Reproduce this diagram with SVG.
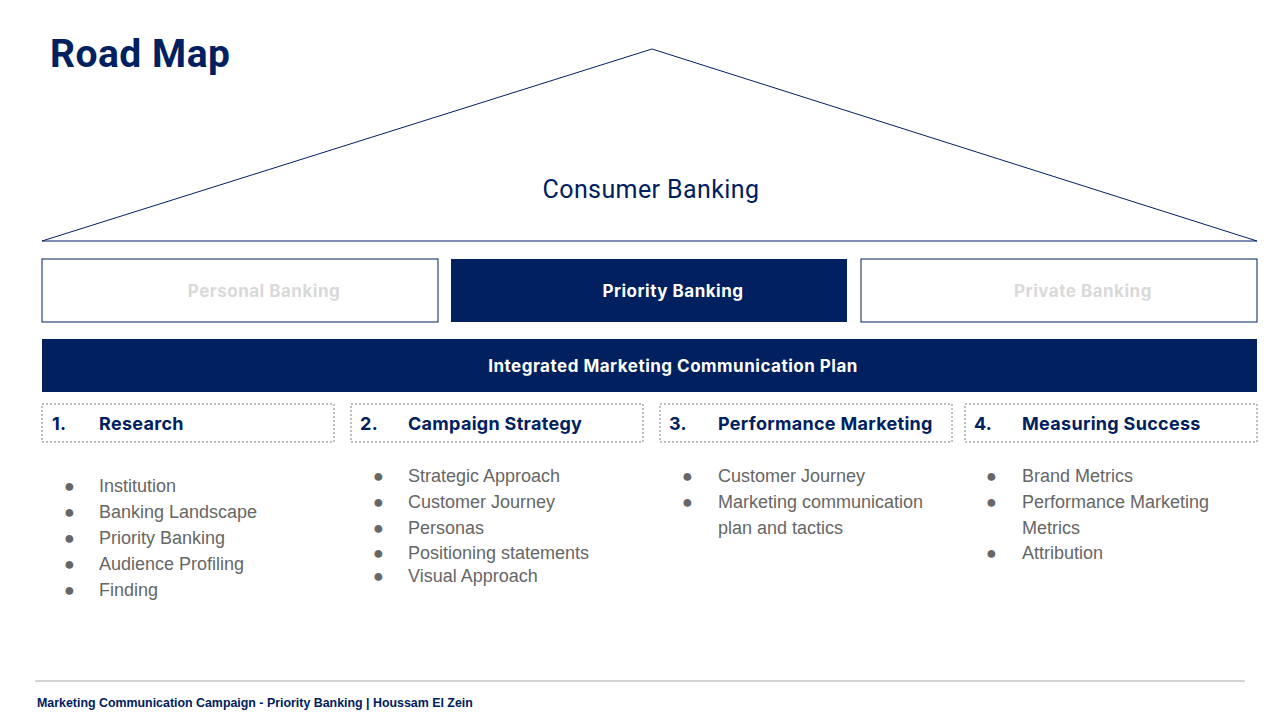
<svg xmlns="http://www.w3.org/2000/svg" width="1280" height="720" viewBox="0 0 1280 720">
<style>
.nv{fill:#002060}
.h{font-family:Roboto,"Liberation Sans",sans-serif;font-weight:bold}
.box{fill:#fff;stroke:#002060;stroke-width:1}
.dash{fill:#fff;stroke:#7f7f7f;stroke-width:1;stroke-dasharray:2 2}
.sec{font-family:Inter,"Liberation Sans",sans-serif;font-weight:bold;font-size:18px;fill:#002060;letter-spacing:0.3px}
.bl{font-family:"Liberation Sans",Arial,sans-serif;font-size:18px;fill:#666}
.tab{font-family:Inter,"Liberation Sans",sans-serif;font-weight:bold;font-size:17px;text-anchor:middle;letter-spacing:0.5px}
</style>
<rect width="1280" height="720" fill="#fff"/>
<text x="50" y="67" class="h nv" font-size="39" letter-spacing="0.5">Road Map</text>
<g id="roof">
<polygon points="42,241 652,49 1257,241" fill="none" stroke="#002060" stroke-width="1"/>
<text x="651" y="198" text-anchor="middle" font-family="Roboto,'Liberation Sans',sans-serif" font-size="25" letter-spacing="0.4" class="nv">Consumer Banking</text>
</g>
<g id="personal"><rect x="42" y="259" width="396" height="63" class="box"/><text x="264" y="297" class="tab" fill="#d9d9d9">Personal Banking</text></g>
<g id="priority"><rect x="451" y="259" width="396" height="63" fill="#002060"/><text x="673" y="297" class="tab" fill="#fff">Priority Banking</text></g>
<g id="private"><rect x="861" y="259" width="396" height="63" class="box"/><text x="1083" y="297" class="tab" fill="#d9d9d9">Private Banking</text></g>
<g id="imc"><rect x="42" y="339" width="1215" height="53" fill="#002060"/><text x="673" y="372" class="tab" fill="#fff">Integrated Marketing Communication Plan</text></g>
<g id="s1"><rect x="42" y="404" width="292" height="38" class="dash"/><text x="52" y="430" class="sec">1.</text><text x="99" y="430" class="sec">Research</text>
<g class="bl"><text x="64" y="492">●</text><text x="99" y="492">Institution</text>
<text x="64" y="518">●</text><text x="99" y="518">Banking Landscape</text>
<text x="64" y="544">●</text><text x="99" y="544">Priority Banking</text>
<text x="64" y="570">●</text><text x="99" y="570">Audience Profiling</text>
<text x="64" y="596">●</text><text x="99" y="596">Finding</text></g></g>
<g id="s2"><rect x="351" y="404" width="292" height="38" class="dash"/><text x="360" y="430" class="sec">2.</text><text x="408" y="430" class="sec">Campaign Strategy</text>
<g class="bl"><text x="373" y="482">●</text><text x="408" y="482">Strategic Approach</text>
<text x="373" y="508">●</text><text x="408" y="508">Customer Journey</text>
<text x="373" y="534">●</text><text x="408" y="534">Personas</text>
<text x="373" y="559">●</text><text x="408" y="559">Positioning statements</text>
<text x="373" y="582">●</text><text x="408" y="582">Visual Approach</text></g></g>
<g id="s3"><rect x="660" y="404" width="292" height="38" class="dash"/><text x="669" y="430" class="sec">3.</text><text x="718" y="430" class="sec">Performance Marketing</text>
<g class="bl"><text x="682" y="482">●</text><text x="718" y="482">Customer Journey</text>
<text x="682" y="508">●</text><text x="718" y="508">Marketing communication</text>
<text x="718" y="534">plan and tactics</text></g></g>
<g id="s4"><rect x="965" y="404" width="292" height="38" class="dash"/><text x="974" y="430" class="sec">4.</text><text x="1022" y="430" class="sec">Measuring Success</text>
<g class="bl"><text x="986" y="482">●</text><text x="1022" y="482">Brand Metrics</text>
<text x="986" y="508">●</text><text x="1022" y="508">Performance Marketing</text>
<text x="1022" y="534">Metrics</text>
<text x="986" y="559">●</text><text x="1022" y="559">Attribution</text></g></g>
<line x1="35" y1="681" x2="1245" y2="681" stroke="#a6a6a6"/>
<text x="37" y="707" font-family="'Liberation Sans',Arial,sans-serif" font-weight="bold" font-size="12.4" class="nv">Marketing Communication Campaign - Priority Banking | Houssam El Zein</text>
</svg>
